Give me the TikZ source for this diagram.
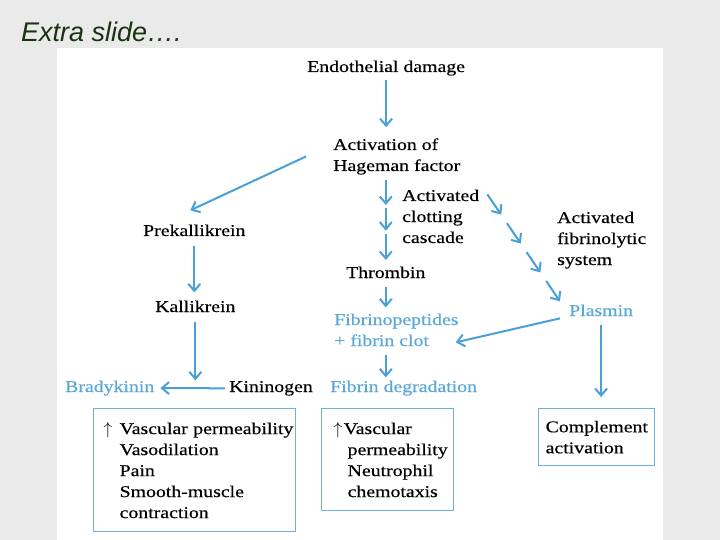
\documentclass[tikz,border=0pt]{standalone}
\usepackage{fontspec}
\setmainfont{Liberation Serif}[FakeStretch=1.2, FakeBold=0.4]
\newfontfamily\titlefont{Liberation Sans}
\usetikzlibrary{arrows.meta,calc}
\definecolor{slidegray}{RGB}{234,234,234}
\definecolor{titlegreen}{RGB}{24,52,18}
\definecolor{arrblue}{RGB}{72,160,215}
\definecolor{txtblue}{RGB}{90,168,216}
\definecolor{boxblue}{RGB}{110,178,220}
\hyphenpenalty=10000
\tikzset{
  lbl/.style={inner sep=0pt, anchor=base west, align=left, font=\fontsize{16.5}{21}\selectfont},
  bluelbl/.style={lbl, text=txtblue},
  arr/.style={draw=arrblue, line width=2pt, -{Straight Barb[length=7pt,width=12pt]}},
  effbox/.style={draw=boxblue, line width=1.3pt, anchor=north west, align=left,
    inner ysep=0pt, font=\fontsize{16.5}{21}\selectfont}
}
\begin{document}
\begin{tikzpicture}[x=1pt, y=-1pt]
% slide background and white panel
\fill[slidegray] (0,0) rectangle (720,540);
\fill[white] (57,48) rectangle (663,540);
\node[inner sep=0pt, anchor=base west, text=titlegreen, font=\titlefont\itshape\fontsize{27}{30}\selectfont] (title) at (21,42) {Extra slide….};

% main column (multi-line nodes sit on their last line)
\node[lbl] (endo) at (307,72) {Endothelial damage};
\node[lbl] (act) at (333,171) {Activation of\\Hageman factor};
\node[lbl] (clot) at (402,243) {Activated\\clotting\\cascade};
\node[lbl] (thr) at (346,278) {Thrombin};
\node[bluelbl] (fib) at (334,346) {Fibrinopeptides\\+ fibrin clot};
\node[bluelbl] (deg) at (330,392) {Fibrin degradation};

% kinin side
\node[lbl] (prek) at (143,236) {Prekallikrein};
\node[lbl] (kall) at (155,312) {Kallikrein};
\node[bluelbl] (brady) at (65,392) {Bradykinin};
\node[lbl] (kin) at (229,392) {Kininogen};

% fibrinolytic side
\node[lbl] (fsys) at (557,265) {Activated\\fibrinolytic\\system};
\node[bluelbl] (plas) at (569,316) {Plasmin};

% effect boxes
\node[effbox, text width=182pt, inner xsep=10pt, minimum height=123pt] (eff1) at (93,408)
  {\makebox[16pt][l]{$\uparrow$}Vascular~permeability\\\hspace*{16pt}Vasodilation\\\hspace*{16pt}Pain\\\hspace*{16pt}Smooth-muscle\\\hspace*{16pt}contraction};
\node[effbox, text width=108pt, inner xsep=12pt, minimum height=102pt] (eff2) at (321,408)
  {\makebox[10pt][l]{$\uparrow$}Vascular\\\hspace*{14pt}permeability\\\hspace*{14pt}Neutrophil\\\hspace*{14pt}chemotaxis};
\node[effbox, text width=102pt, inner xsep=7pt, minimum height=57pt] (comp) at (538,408)
  {Complement\\activation};

% arrows
\draw[arr, shorten <=4pt, shorten >=11pt] (endo.south) -- (endo.south |- act.north);
\draw[arr] ($(act.west)+(-27,0)$) -- ($(prek.north)+(-4,-14)$);
\foreach \a/\b in {0.06/0.33, 0.36/0.61, 0.65/0.93}
  \draw[arr] ($(thr.north |- act.south)!\a!(thr.north)$) -- ($(thr.north |- act.south)!\b!(thr.north)$);
\draw[arr, shorten <=9pt, shorten >=6pt] (thr.south) -- (thr.south |- fib.north);
\draw[arr, shorten <=9pt, shorten >=3pt] (thr.south |- fib.south) -- (thr.south |- deg.north);

\draw[arr, shorten <=10pt, shorten >=8pt] (prek.south) -- (prek.south |- kall.north);
\draw[arr, shorten <=10pt] (kall.south) -- (kall.south |- brady.north);
\draw[arr, shorten <=4pt, shorten >=6pt] (kin.west) -- (brady.east);

\coordinate (fl0) at ($(clot.north east)+(8,5)$);
\coordinate (fl1) at ($(plas.north west)+(-9,-3)$);
\foreach \t [evaluate=\t as \u using \t+0.19] in {0,0.27,0.54,0.81}
  \draw[arr] ($(fl0)!\t!(fl1)$) -- ($(fl0)!\u!(fl1)$);
\draw[arr] ($(plas.west)+(-9,8)$) -- ($(fib.south east)+(-3,-4)$);
\draw[arr, shorten <=9pt, shorten >=11pt] (plas.south) -- (plas.south |- comp.north);

\end{tikzpicture}
\end{document}
